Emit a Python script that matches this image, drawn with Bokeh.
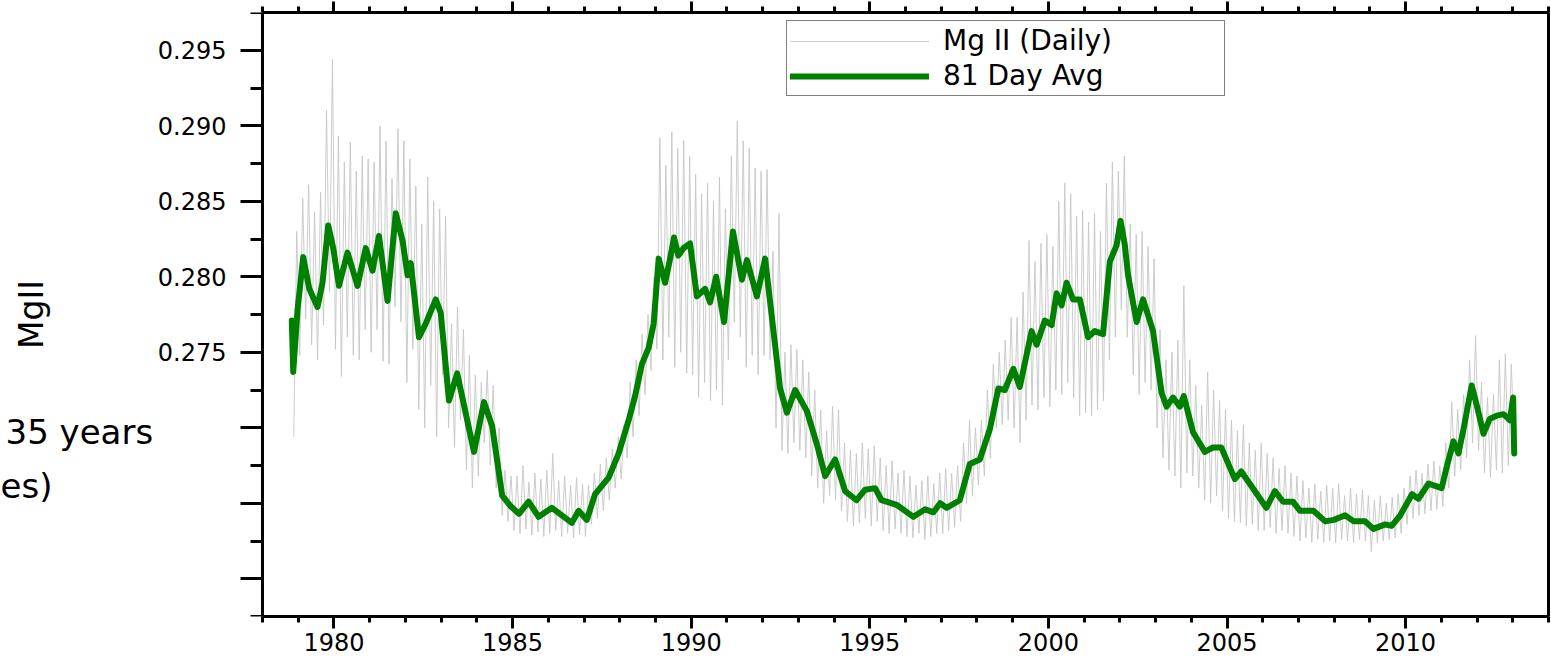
import numpy as np
from bokeh.plotting import figure
from bokeh.models import Range1d, FixedTicker, LinearAxis, Label, Legend, LegendItem
from bokeh.embed import file_html
from bokeh.resources import INLINE

FONT = "DejaVu Sans"

# 81-day running mean of the Mg II core-to-wing index (decimal year, index)
avg_year = [
    1978.82, 1978.86, 1978.98, 1979.14, 1979.31, 1979.54, 1979.68, 1979.84, 1979.98,
    1980.14, 1980.38, 1980.66, 1980.89, 1981.08, 1981.26, 1981.50, 1981.73, 1981.92,
    1982.06, 1982.15, 1982.38, 1982.57, 1982.85, 1982.99, 1983.22, 1983.45, 1983.92,
    1984.20, 1984.43, 1984.71, 1984.95, 1985.18, 1985.45, 1985.73, 1986.10, 1986.38,
    1986.66, 1986.85, 1987.08, 1987.31, 1987.69, 1987.97, 1988.25, 1988.43, 1988.62,
    1988.81, 1988.95, 1989.09, 1989.27, 1989.41, 1989.52, 1989.64, 1989.79, 1989.97,
    1990.16, 1990.39, 1990.53, 1990.70, 1990.92, 1991.17, 1991.42, 1991.56, 1991.84,
    1992.07, 1992.26, 1992.49, 1992.68, 1992.91, 1993.24, 1993.52, 1993.75, 1994.03,
    1994.31, 1994.63, 1994.87, 1995.15, 1995.33, 1995.75, 1996.22, 1996.55, 1996.78,
    1996.97, 1997.15, 1997.52, 1997.80, 1998.08, 1998.36, 1998.60, 1998.78, 1999.02,
    1999.20, 1999.53, 1999.67, 1999.90, 2000.09, 2000.23, 2000.37, 2000.51, 2000.69,
    2000.88, 2001.11, 2001.30, 2001.53, 2001.72, 2001.91, 2002.02, 2002.14, 2002.23,
    2002.47, 2002.65, 2002.93, 2003.17, 2003.31, 2003.49, 2003.68, 2003.79, 2004.05,
    2004.38, 2004.61, 2004.84, 2005.22, 2005.40, 2005.87, 2006.10, 2006.34, 2006.57,
    2006.85, 2007.04, 2007.42, 2007.75, 2007.99, 2008.31, 2008.55, 2008.87, 2009.10,
    2009.43, 2009.61, 2009.85, 2010.18, 2010.36, 2010.64, 2011.01, 2011.15, 2011.34,
    2011.48, 2011.62, 2011.85, 2011.99, 2012.18, 2012.36, 2012.55, 2012.74, 2012.92,
    2013.01, 2013.04,
]
avg_index = [
    0.2771, 0.2737, 0.2778, 0.2813, 0.2792, 0.2780, 0.2796, 0.2834, 0.2819,
    0.2794, 0.2816, 0.2794, 0.2819, 0.2804, 0.2827, 0.2784, 0.2842, 0.2824,
    0.2801, 0.2809, 0.2760, 0.2769, 0.2785, 0.2776, 0.2718, 0.2736, 0.2684,
    0.2717, 0.2701, 0.2655, 0.2648, 0.2643, 0.2651, 0.2641, 0.2647, 0.2642,
    0.2637, 0.2645, 0.2639, 0.2656, 0.2667, 0.2683, 0.2705, 0.2721, 0.2742,
    0.2753, 0.2769, 0.2812, 0.2796, 0.2812, 0.2826, 0.2814, 0.2819, 0.2822,
    0.2787, 0.2792, 0.2783, 0.2800, 0.2770, 0.2830, 0.2798, 0.2811, 0.2787,
    0.2812, 0.2773, 0.2726, 0.2710, 0.2725, 0.2711, 0.2689, 0.2668, 0.2679,
    0.2658, 0.2652, 0.2659, 0.2660, 0.2652, 0.2649, 0.2641, 0.2646, 0.2644,
    0.2650, 0.2647, 0.2652, 0.2676, 0.2679, 0.2699, 0.2726, 0.2725, 0.2739,
    0.2727, 0.2764, 0.2755, 0.2771, 0.2768, 0.2789, 0.2781, 0.2796, 0.2785,
    0.2785, 0.2760, 0.2764, 0.2762, 0.2810, 0.2821, 0.2837, 0.2821, 0.2801,
    0.2770, 0.2785, 0.2764, 0.2723, 0.2714, 0.2720, 0.2714, 0.2721, 0.2697,
    0.2684, 0.2687, 0.2687, 0.2666, 0.2671, 0.2655, 0.2647, 0.2658, 0.2651,
    0.2651, 0.2645, 0.2645, 0.2638, 0.2639, 0.2642, 0.2638, 0.2638, 0.2633,
    0.2636, 0.2635, 0.2642, 0.2656, 0.2653, 0.2663, 0.2660, 0.2674, 0.2691,
    0.2683, 0.2699, 0.2728, 0.2715, 0.2696, 0.2706, 0.2708, 0.2709, 0.2705,
    0.2720, 0.2683,
]

# Daily Mg II index sampled once a month from mid-November 1978, in units of 1e-4
daily_start = 1978.875
daily_e4 = [
    2694, 2830,
    2748, 2852, 2772, 2861, 2755, 2843, 2745, 2856, 2768, 2910, 2790, 2944,  # 1979
    2752, 2893, 2734, 2876, 2760, 2889, 2748, 2870, 2745, 2880, 2765, 2878,  # 1980
    2750, 2876, 2765, 2900, 2744, 2890, 2742, 2865, 2780, 2898, 2770, 2890,  # 1981
    2730, 2878, 2752, 2860, 2712, 2835, 2700, 2866, 2728, 2850, 2694, 2845,  # 1982
    2735, 2840, 2700, 2769, 2687, 2780, 2705, 2765, 2672, 2748, 2660, 2735,  # 1983
    2668, 2730, 2690, 2738, 2675, 2728, 2660, 2700, 2642, 2672, 2638, 2668,  # 1984
    2632, 2668, 2630, 2675, 2633, 2664, 2629, 2670, 2631, 2666, 2628, 2672,  # 1985
    2630, 2683, 2632, 2665, 2628, 2668, 2630, 2662, 2627, 2667, 2629, 2663,  # 1986
    2628, 2662, 2636, 2670, 2640, 2676, 2645, 2680, 2652, 2686, 2660, 2694,  # 1987
    2666, 2702, 2680, 2730, 2694, 2745, 2708, 2762, 2722, 2775, 2738, 2800,  # 1988
    2752, 2892, 2745, 2874, 2760, 2896, 2740, 2885, 2750, 2890, 2736, 2880,  # 1989
    2735, 2868, 2720, 2855, 2730, 2862, 2718, 2850, 2725, 2866, 2715, 2845,  # 1990
    2745, 2880, 2770, 2903, 2760, 2890, 2740, 2885, 2748, 2872, 2735, 2870,  # 1991
    2748, 2871, 2745, 2817, 2700, 2842, 2685, 2750, 2683, 2755, 2690, 2752,  # 1992
    2685, 2745, 2680, 2737, 2668, 2725, 2660, 2712, 2650, 2698, 2655, 2714,  # 1993
    2652, 2712, 2645, 2690, 2638, 2685, 2635, 2683, 2637, 2690, 2640, 2686,  # 1994
    2635, 2688, 2638, 2680, 2632, 2675, 2630, 2678, 2633, 2670, 2630, 2672,  # 1995
    2628, 2668, 2627, 2662, 2630, 2665, 2626, 2668, 2628, 2663, 2630, 2670,  # 1996
    2630, 2673, 2632, 2670, 2634, 2675, 2638, 2690, 2650, 2705, 2655, 2700,  # 1997
    2662, 2705, 2668, 2725, 2680, 2742, 2700, 2750, 2702, 2758, 2705, 2773,  # 1998
    2700, 2773, 2690, 2790, 2705, 2824, 2715, 2810, 2712, 2822, 2720, 2828,  # 1999
    2714, 2820, 2725, 2850, 2722, 2862, 2730, 2855, 2720, 2840, 2708, 2844,  # 2000
    2710, 2836, 2708, 2842, 2712, 2830, 2718, 2862, 2745, 2876, 2760, 2870,  # 2001
    2778, 2880, 2760, 2835, 2735, 2828, 2722, 2830, 2730, 2820, 2725, 2812,  # 2002
    2700, 2765, 2680, 2745, 2672, 2750, 2668, 2758, 2660, 2794, 2670, 2745,  # 2003
    2668, 2728, 2660, 2715, 2652, 2737, 2650, 2725, 2655, 2718, 2645, 2712,  # 2004
    2640, 2705, 2638, 2698, 2637, 2702, 2635, 2690, 2636, 2685, 2632, 2690,  # 2005
    2632, 2683, 2634, 2680, 2630, 2673, 2632, 2675, 2630, 2670, 2628, 2668,  # 2006
    2625, 2665, 2627, 2660, 2624, 2663, 2626, 2658, 2624, 2662, 2625, 2660,  # 2007
    2624, 2663, 2626, 2655, 2625, 2660, 2624, 2656, 2626, 2659, 2625, 2655,  # 2008
    2618, 2652, 2624, 2655, 2625, 2650, 2626, 2654, 2627, 2656, 2630, 2660,  # 2009
    2636, 2668, 2640, 2672, 2642, 2670, 2643, 2676, 2645, 2678, 2646, 2675,  # 2010
    2648, 2690, 2660, 2717, 2668, 2712, 2672, 2722, 2680, 2745, 2690, 2761,  # 2011
    2685, 2730, 2670, 2720, 2667, 2722, 2672, 2745, 2670, 2749, 2675, 2742,  # 2012
    2688,
]

# Axis ticks
x_major = [1980, 1985, 1990, 1995, 2000, 2005, 2010]
x_minor = list(range(1978, 2015))
y_major = [0.260, 0.265, 0.270, 0.275, 0.280, 0.285, 0.290, 0.295]
y_tick_labels = ["", "", "", "0.275", "0.280", "0.285", "0.290", "0.295"]
y_minor = [0.2575, 0.2625, 0.2675, 0.2725, 0.2775, 0.2825, 0.2875, 0.2925, 0.2975]

series_names = ["Mg II (Daily)", "81 Day Avg"]
caption_lines = ["35 years", "es)"]

daily_index = np.array(daily_e4) / 1e4
daily_year = daily_start + np.arange(len(daily_index)) / 12.0

# Axis box spans 1978-2014; the canvas strip left of it holds the labels
X0, X1 = 1978, 2014
Y0, Y1 = 0.2575, 0.2975
LEFT_PX, FRAME_W, FRAME_H = 262, 1548, 604
px_per_year = (FRAME_W - LEFT_PX) / (X1 - X0)
XL = X0 - LEFT_PX / px_per_year
px_per_unit = FRAME_H / (Y1 - Y0)

p = figure(
    width=1551, height=660, output_backend="svg", toolbar_location=None,
    x_range=Range1d(XL, X1), y_range=Range1d(Y0, Y1),
    min_border_left=0, min_border_right=3, min_border_top=12, min_border_bottom=44,
    background_fill_color="white", border_fill_color="white",
)
p.xgrid.visible = False
p.ygrid.visible = False
p.outline_line_color = None

daily_r = p.line(daily_year, daily_index, line_color="#c6c6c6", line_width=0.9)
avg_r = p.line(avg_year, avg_index, line_color="#008000", line_width=6,
               line_join="round", line_cap="round")

# Bottom axis
xa = p.xaxis[0]
xa.ticker = FixedTicker(ticks=x_major, minor_ticks=x_minor)
xa.bounds = (X0, X1)
xa.major_label_text_font = FONT
xa.major_label_text_font_size = "24px"
xa.major_label_text_color = "black"
xa.major_label_standoff = 4
xa.major_tick_out = 12
xa.minor_tick_out = 6

# Left axis, pinned at the start of the time span
ya = p.yaxis[0]
ya.fixed_location = X0
ya.ticker = FixedTicker(ticks=y_major, minor_ticks=y_minor)
ya.major_label_overrides = dict(zip(y_major, y_tick_labels))
ya.major_label_text_font = FONT
ya.major_label_text_font_size = "24px"
ya.major_label_text_color = "black"
ya.major_label_standoff = 14
ya.major_tick_out = 22
ya.minor_tick_out = 12
ya.axis_label = "MgII"
ya.axis_label_text_font = FONT
ya.axis_label_text_font_size = "33px"
ya.axis_label_text_font_style = "normal"
ya.axis_label_text_color = "black"
ya.axis_label_standoff = 104

# Top axis: ticks only, no labels drawn
top = LinearAxis(ticker=FixedTicker(ticks=x_major, minor_ticks=x_minor), bounds=(X0, X1),
                 major_label_text_font_size="1px", major_label_text_color=None,
                 major_label_standoff=0, major_tick_out=11, minor_tick_out=6)
p.add_layout(top, "above")

# Right edge: plain line, no ticks
right = LinearAxis(ticker=FixedTicker(ticks=[], minor_ticks=[]),
                   major_label_text_font_size="1px", major_label_text_color=None,
                   major_label_standoff=0, major_tick_out=0, minor_tick_out=0)
p.add_layout(right, "right")

for ax in (xa, ya, top, right):
    ax.axis_line_width = 3
    ax.axis_line_color = "black"
    ax.major_tick_line_width = 3
    ax.minor_tick_line_width = 3
    ax.major_tick_line_color = "black"
    ax.minor_tick_line_color = "black"
    ax.major_tick_in = 0
    ax.minor_tick_in = 0

legend = Legend(
    items=[LegendItem(label=series_names[0], renderers=[daily_r]),
           LegendItem(label=series_names[1], renderers=[avg_r])],
    location=(786, 520), margin=0, padding=3, spacing=2,
    glyph_width=139, glyph_height=30, label_standoff=14,
    label_width=278, label_height=30,
    label_text_font=FONT, label_text_font_size="28px", label_text_color="black",
    border_line_color="black", border_line_width=1.5,
    background_fill_color="white", background_fill_alpha=1.0,
)
p.add_layout(legend)

# Caption fragments in the strip left of the axis
for text, sx, sy in ((caption_lines[0], 5, 431), (caption_lines[1], 0, 485)):
    p.add_layout(Label(
        x=XL + sx / px_per_year, y=Y1 - (sy - 12) / px_per_unit,
        text=text, text_font=FONT, text_font_size="34px", text_color="black",
        text_baseline="alphabetic", text_align="left"))

open("out.html", "w").write(file_html(p, INLINE))
